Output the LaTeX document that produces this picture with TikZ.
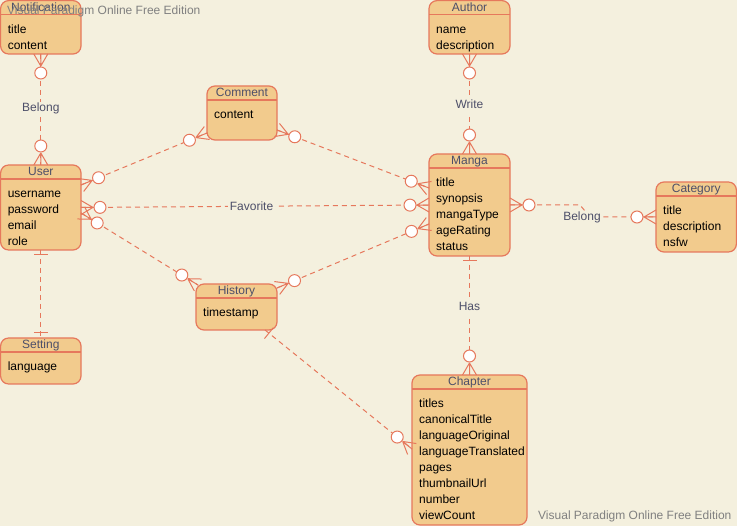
\documentclass[tikz,border=0pt]{standalone}
\usepackage{fontspec}
\setmainfont{Liberation Sans}
\usetikzlibrary{calc}

\definecolor{paper}{RGB}{244,240,222}
\definecolor{boxfill}{RGB}{242,203,141}
\definecolor{edge}{RGB}{230,120,92}
\definecolor{headink}{RGB}{77,79,105}
\definecolor{wmark}{RGB}{128,128,128}

\newcommand\pxfont{\fontsize{12}{14}\selectfont}

\tikzset{
  evenline/.style={text height=8pt, text depth=4pt},
  entitybox/.style={draw=edge, fill=boxfill, line width=1.2pt, rounded corners=8pt,
                    inner sep=0pt, outer sep=0pt, anchor=north west},
  headrule/.style={draw=edge, line width=1.2pt},
  headtext/.style={evenline, text=headink, inner sep=0pt, font=\pxfont},
  attrtext/.style={evenline, text=black, inner sep=0pt, anchor=west, font=\pxfont},
  relation/.style={draw=edge, line width=1pt, dash pattern=on 5pt off 4pt},
  endmark/.style={draw=edge, line width=1pt},
  rellabel/.style={evenline, fill=paper, text=headink, inner sep=1.5pt, yshift=-2.5pt, font=\pxfont},
  watermark/.style={evenline, text=wmark, anchor=west, inner sep=0pt, font=\pxfont}
}

% entity: name, left, top, width, height, title, attribute list
\newcommand\entity[7]{%
  \node[entitybox, minimum width=#4pt, minimum height=#5pt] (#1) at (#2,#3) {};
  \draw[headrule] ($(#1.north west)+(0,14)$) -- ($(#1.north east)+(0,14)$);
  \node[headtext] (#1-title) at ($(#1.north)+(0,9)$) {#6};
  \foreach \a [count=\i from 0] in {#7}
    \node[attrtext] (#1-a\i) at ($(#1.north west)+(7,30.5+16*\i)$) {\a};
}

% "many" end: crow's foot on the border point #1, with circle, line coming from #2
\newcommand\crowfoot[2]{%
  \draw[endmark] ($(#1)!12pt!(#2)$) -- ($(#1)!7pt!90:(#2)$)
                 ($(#1)!12pt!(#2)$) -- (#1)
                 ($(#1)!12pt!(#2)$) -- ($(#1)!7pt!-90:(#2)$);
  \draw[endmark, fill=white] ($(#1)!19pt!(#2)$) circle[radius=6pt];
}

% "one" end: single bar across the line near border point #1
\newcommand\onebar[2]{%
  \draw[endmark] ($(#1)!5pt!(#2)!7pt!90:(#2)$) -- ($(#1)!5pt!(#2)!7pt!-90:(#2)$);
}

\begin{document}
\begin{tikzpicture}[x=1pt, y=-1pt]
  \useasboundingbox[fill=paper] (0,0) rectangle (737,526);

  % entities
  \entity{notification}{0.6}{0.6}{80.4}{53.4}{Notification}{title,content}
  \entity{author}{429}{0.6}{81}{53.4}{Author}{name,description}
  \entity{comment}{207}{86}{70}{54}{Comment}{content}
  \entity{user}{0.6}{165}{80.4}{85}{User}{username,password,email,role}
  \entity{manga}{429}{154}{81}{102}{Manga}{title,synopsis,mangaType,ageRating,status}
  \entity{category}{656}{182}{80.4}{70}{Category}{title,description,nsfw}
  \entity{history}{196}{284}{81}{46}{History}{timestamp}
  \entity{setting}{0.6}{338}{80.4}{46}{Setting}{language}
  \entity{chapter}{412}{375}{115}{150}{Chapter}{titles,canonicalTitle,languageOriginal,languageTranslated,pages,thumbnailUrl,number,viewCount}

  % attachment points on the entity borders
  \coordinate (uc1) at ($(user.north east)+(0,20)$);
  \coordinate (uc2) at ($(comment.south west)+(0,-7)$);
  \coordinate (cm1) at ($(comment.north east)+(0,44)$);
  \coordinate (cm2) at ($(manga.north west)+(0,34)$);
  \coordinate (uh1) at ($(user.north east)+(0,48)$);
  \coordinate (uh2) at ($(history.north west)+(2,1)$);
  \coordinate (hm1) at ($(history.north east)+(0,4)$);
  \coordinate (hm2) at ($(manga.north west)+(0,70)$);
  \coordinate (hc1) at ($(history.south east)+(-12,0)$);
  \coordinate (hc2) at ($(chapter.north west)+(0,74)$);
  \coordinate (mcA) at (580,205);
  \coordinate (mcB) at (590,217);

  % relationship lines
  \draw[relation] (notification.south) -- node[rellabel, pos=0.48] {Belong} (user.north);
  \draw[relation] (author.south) -- node[rellabel, pos=0.5] {Write} (manga.north);
  \draw[relation] (uc1) -- (uc2);
  \draw[relation] (cm1) -- (cm2);
  \draw[relation] (user.east) -- node[rellabel, pos=0.49] {Favorite} (manga.west);
  \draw[relation] (uh1) -- (uh2);
  \draw[relation] (hm1) -- (hm2);
  \draw[relation] (manga.east) -- (mcA) -- (mcB) -- (category.west);
  \node[rellabel] (belong2) at (582,216) {Belong};
  \draw[relation] (manga.south) -- node[rellabel, pos=0.42] {Has} (chapter.north);
  \draw[relation] (hc1) -- (hc2);
  \draw[relation] (user.south) -- (setting.north);

  % cardinality marks
  \crowfoot{notification.south}{user.north}
  \crowfoot{user.north}{notification.south}
  \crowfoot{author.south}{manga.north}
  \crowfoot{manga.north}{author.south}
  \crowfoot{uc1}{uc2}
  \crowfoot{uc2}{uc1}
  \crowfoot{cm1}{cm2}
  \crowfoot{cm2}{cm1}
  \crowfoot{user.east}{manga.west}
  \crowfoot{manga.west}{user.east}
  \crowfoot{uh1}{uh2}
  \crowfoot{uh2}{uh1}
  \crowfoot{hm1}{hm2}
  \crowfoot{hm2}{hm1}
  \crowfoot{manga.east}{mcA}
  \crowfoot{category.west}{mcB}
  \onebar{manga.south}{chapter.north}
  \crowfoot{chapter.north}{manga.south}
  \onebar{hc1}{hc2}
  \crowfoot{hc2}{hc1}
  \onebar{user.south}{setting.north}
  \onebar{setting.north}{user.south}

  % edition stamps
  \node[watermark] (stampTop) at (7,13) {Visual Paradigm Online Free Edition};
  \node[watermark] (stampBottom) at (538,518) {Visual Paradigm Online Free Edition};
\end{tikzpicture}
\end{document}
